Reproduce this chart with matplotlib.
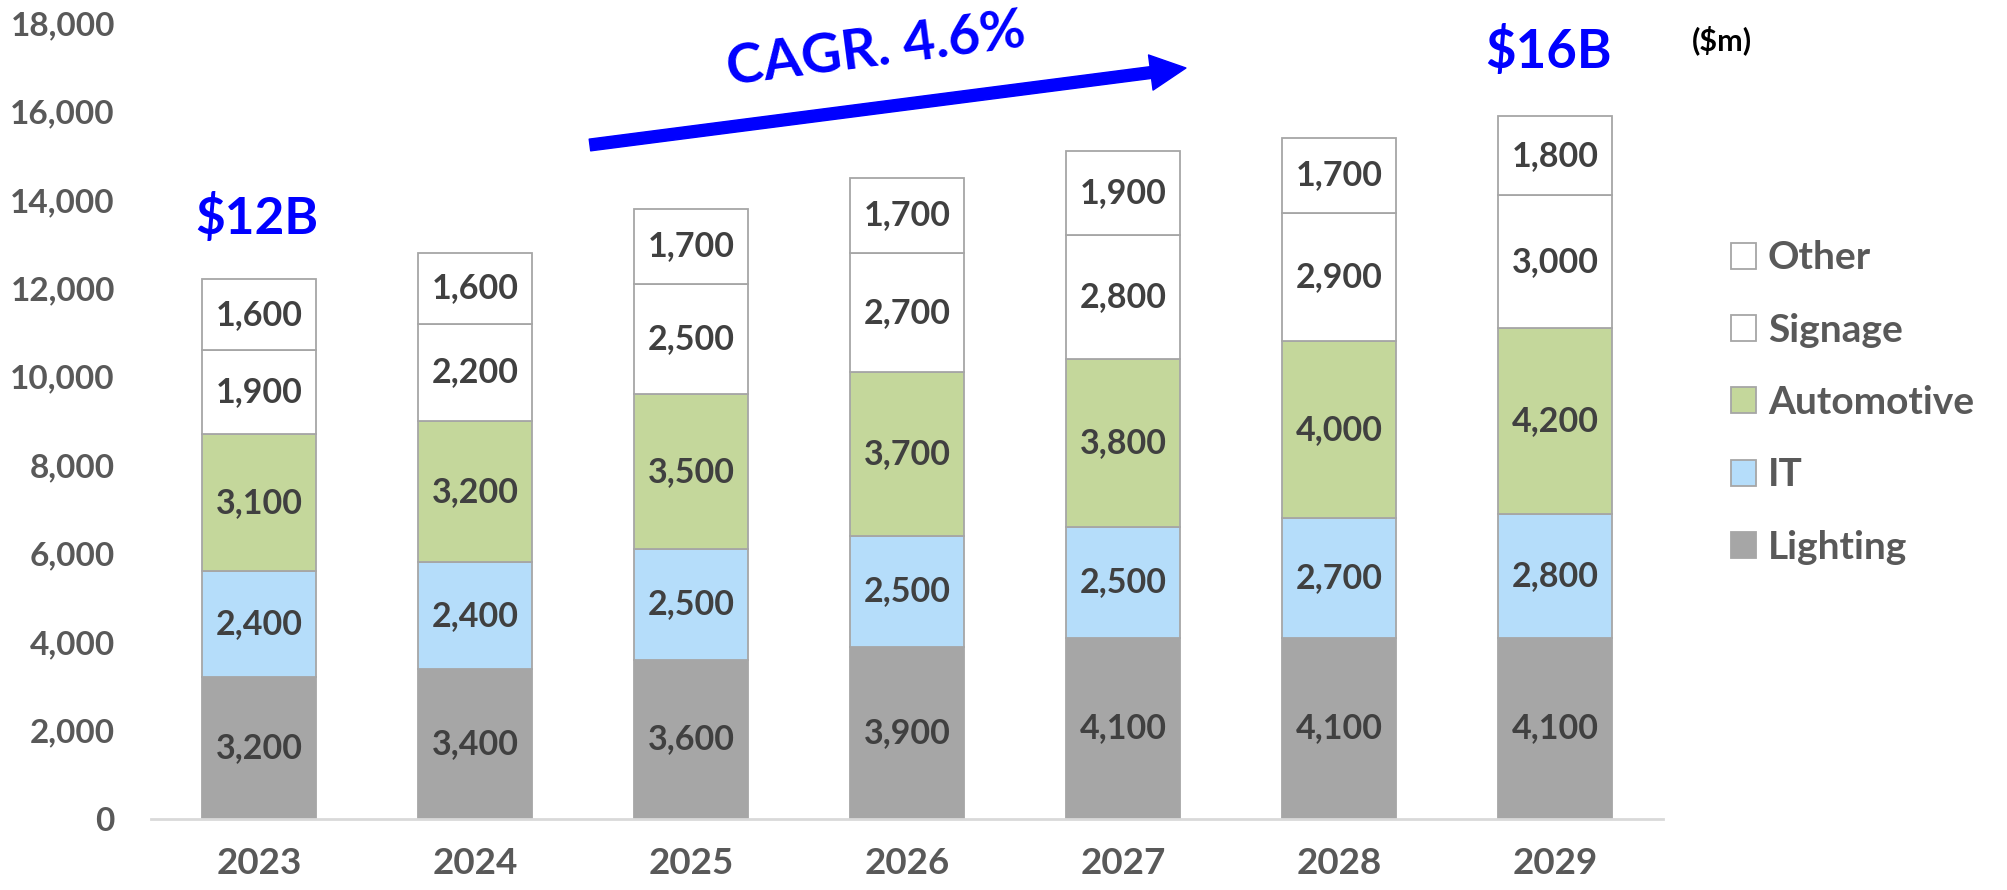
import numpy as np
import matplotlib
matplotlib.use("Agg")
import matplotlib.pyplot as plt
from matplotlib.patches import Patch

# ============================================================
# 1. DATA ($m)
# ============================================================

years = ["2023", "2024", "2025", "2026", "2027", "2028", "2029"]

lighting = [3200, 3400, 3600, 3900, 4100, 4100, 4100]
it = [2400, 2400, 2500, 2500, 2500, 2700, 2800]
automotive = [3100, 3200, 3500, 3700, 3800, 4000, 4200]
signage = [1900, 2200, 2500, 2700, 2800, 2900, 3000]
other = [1600, 1600, 1700, 1700, 1900, 1700, 1800]

segment_names = ["Lighting", "IT", "Automotive", "Signage", "Other"]
segment_colors = ["#A6A6A6", "#B5DDFA", "#C4D79B", "#FFFFFF", "#FFFFFF"]

yticks = [0, 2000, 4000, 6000, 8000, 10000, 12000, 14000, 16000, 18000]

# ============================================================
# 2. CHART
# ============================================================

def draw_chart():
    plt.rcParams["font.family"] = "Lato"
    plt.rcParams["font.weight"] = "bold"

    fig = plt.figure(figsize=(20.08, 8.9), dpi=100)
    ax = fig.add_axes([0.0752, 0.0798, 0.753, 0.8944])

    x = np.arange(len(years))
    series = [lighting, it, automotive, signage, other]
    bottom = np.zeros(len(years))

    for name, vals, color in zip(segment_names, series, segment_colors):
        vals = np.array(vals)
        ax.bar(x, vals, width=0.532, bottom=bottom, color=color,
               edgecolor="#A6A6A6", linewidth=1.3, label=name, zorder=2)
        for xi, b, v in zip(x, bottom, vals):
            ax.text(xi, b + v / 2, f"{v:,}", ha="center", va="center",
                    fontsize=24.5, fontweight="bold", color="#404040", zorder=3)
        bottom += vals

    ax.set_xlim(-0.5, len(years) - 0.5)
    ax.set_ylim(0, 18000)
    ax.set_xticks(x)
    ax.set_xticklabels(years)
    ax.set_yticks(yticks)
    ax.set_yticklabels([f"{v:,}" for v in yticks])
    ax.tick_params(axis="x", length=0, pad=20, labelsize=26.5, labelcolor="#595959")
    ax.tick_params(axis="y", length=0, pad=26, labelsize=24, labelcolor="#595959")

    for side in ["left", "right", "top"]:
        ax.spines[side].set_visible(False)
    ax.spines["bottom"].set_color("#D9D9D9")
    ax.spines["bottom"].set_linewidth(2)

    # legend (top to bottom: Other ... Lighting)
    handles = [Patch(facecolor=c, edgecolor="#A6A6A6", linewidth=1.3)
               for c in segment_colors[::-1]]
    leg = fig.legend(handles, segment_names[::-1], loc="upper left",
                     bbox_to_anchor=(0.862, 0.73), frameon=False,
                     fontsize=28, handlelength=0.65, handleheight=0.65,
                     handletextpad=0.3, labelspacing=0.96,
                     borderpad=0, borderaxespad=0)
    for t in leg.get_texts():
        t.set_color("#595959")
        t.set_fontweight("bold")

    # annotations
    fig.text(0.128, 0.755, "$12B", ha="center", va="center",
             fontsize=37, fontweight="bold", color="#0000FF")
    fig.text(0.771, 0.942, "$16B", ha="center", va="center",
             fontsize=38, fontweight="bold", color="#0000FF")
    fig.text(0.8576, 0.955, "($m)", ha="center", va="center",
             fontsize=22, fontweight="bold", color="black")
    fig.text(0.4365, 0.9438, "CAGR. 4.6%", ha="center", va="center",
             rotation=7.4, rotation_mode="anchor",
             fontsize=40, fontweight="bold", color="#0000FF")

    ax.annotate("", xy=(0.5906, 0.9236), xytext=(0.2938, 0.8371),
                xycoords="figure fraction", textcoords="figure fraction",
                arrowprops=dict(arrowstyle="simple,head_length=1.5,head_width=1.5,tail_width=0.5",
                                mutation_scale=17, color="#0000FF",
                                shrinkA=0, shrinkB=0))

    fig.savefig("out.png", dpi=100)
    plt.close(fig)


# ============================================================
# 3. MAIN
# ============================================================

def main():
    draw_chart()


if __name__ == "__main__":
    main()
